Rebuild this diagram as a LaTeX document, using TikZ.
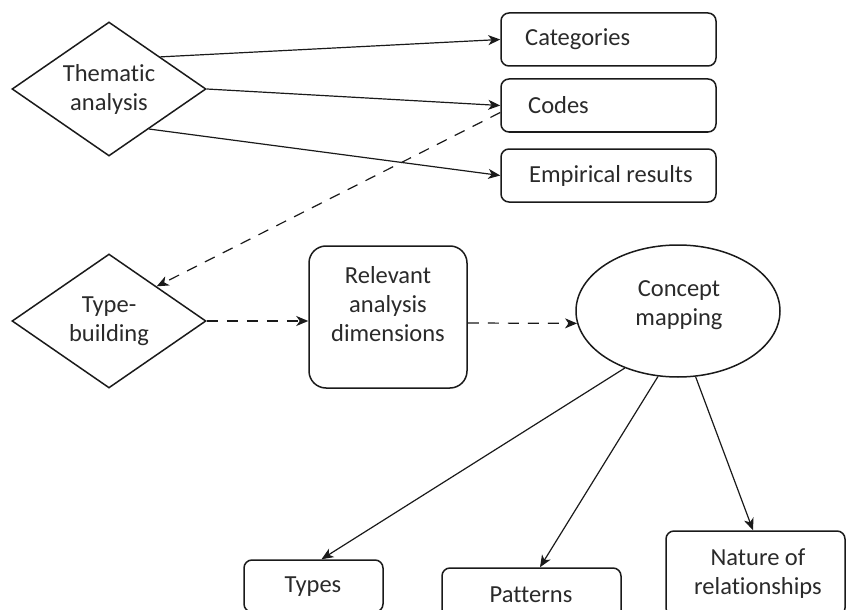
\documentclass[tikz,border=0pt]{standalone}
\usepackage{fontspec}
\setmainfont{Carlito}[Ligatures=NoCommon]
\usetikzlibrary{shapes.geometric,arrows.meta}
\definecolor{ink}{HTML}{1A1A1A}
\definecolor{txt}{HTML}{2A2A2A}
\begin{document}
\begin{tikzpicture}[x=1pt,y=-1pt,
  every node/.style={font=\fontsize{24.5}{29}\selectfont, text=txt},
  dia/.style={draw=ink, line width=1.5pt, diamond, inner sep=0pt, aspect=1.44, minimum width=194pt, minimum height=134pt, align=center},
  rbox/.style={draw=ink, line width=1.5pt, rounded corners=8pt, inner sep=0pt},
  lbl/.style={align=center, inner sep=0pt},
  conn/.style={draw=ink, line width=1.2pt, -{Stealth[length=12pt,width=10pt,inset=3.5pt]}},
  dconn/.style={conn, dash pattern=on 11pt off 9pt}
]
\useasboundingbox (0,0) rectangle (847,610);
% top group
\node[dia] (tha) at (109,89) {Thematic\\analysis};
\node[rbox, minimum width=215pt, minimum height=53pt] (cat) at (608.5,39.5) {};
\node[lbl, anchor=west] (catt) at (525,39.5) {Categories};
\node[rbox, minimum width=215pt, minimum height=53pt] (cod) at (608.5,105.5) {};
\node[lbl, anchor=west] (codt) at (528,105.5) {Codes};
\node[rbox, minimum width=215pt, minimum height=53pt] (emp) at (608.5,175.5) {};
\node[lbl, anchor=west] (empt) at (529,175.5) {Empirical results};
% middle group
\node[dia] (tb) at (109,321) {Type-\\building};
\node[rbox, rounded corners=17pt, minimum width=158pt, minimum height=142pt] (rel) at (388,317) {};
\node[lbl] (relt) at (388,304) {Relevant\\analysis\\dimensions};
\node[draw=ink, line width=1.5pt, ellipse, minimum width=204pt, minimum height=132pt, inner sep=0pt] (cm) at (678,311) {};
\node[lbl] (cmt) at (679,305) {Concept\\mapping};
% bottom group
\node[rbox, minimum width=139pt, minimum height=52pt] (typ) at (313.5,586) {};
\node[lbl] (typt) at (313,587) {Types};
\node[rbox, minimum width=179pt, minimum height=54pt] (pat) at (531.5,595) {};
\node[lbl] (patt) at (531,595) {Patterns};
\node[rbox, minimum width=179pt, minimum height=85pt] (nat) at (755.5,573.5) {};
\node[lbl] (natt) at (758,573.5) {Nature of\\relationships};
% connectors
\draw[conn] (tha.32) -- (cat.west);
\draw[conn] (tha.east) -- (cod.west);
\draw[conn] (tha.-45) -- (emp.west);
\draw[dconn] ([yshift=-7pt]cod.west) -- (tb.36);
\draw[dconn] (tb.east) -- (tb.east -| rel.west);
\draw[dconn] ([yshift=-6pt]rel.east) -- (cm.187);
\draw[conn] (cm.227) -- ([xshift=8pt]typ.north);
\draw[conn] (cm.253) -- ([xshift=8.5pt]pat.north);
\draw[conn] (cm.285) -- ([xshift=-2.5pt]nat.north);
\end{tikzpicture}
\end{document}
